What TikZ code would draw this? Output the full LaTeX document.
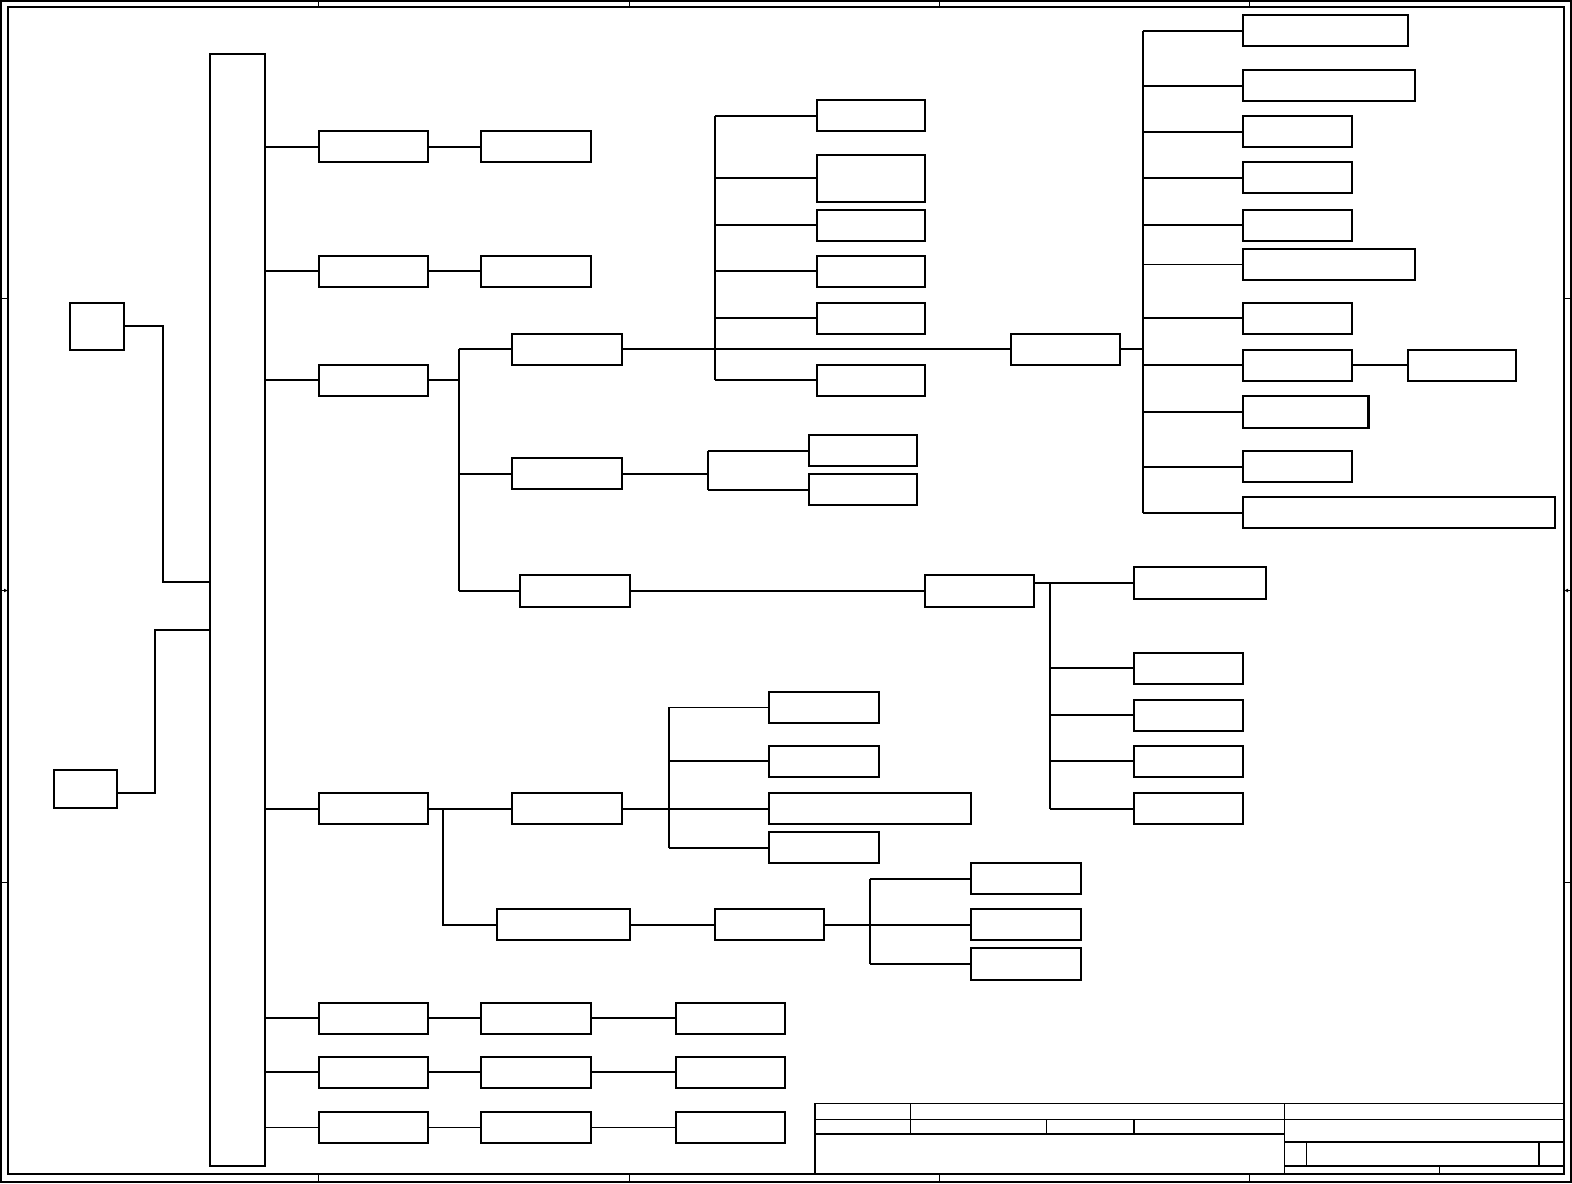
\documentclass[tikz,border=0pt]{standalone}
\usetikzlibrary{calc,arrows.meta}
\tikzset{
  bx/.style={draw, line width=2pt, rectangle, inner sep=0pt, outer sep=0pt},
  ln/.style={line width=2pt},
  thin ln/.style={line width=1.1pt},
  frm/.style={line width=1.2pt},
}
\newcommand\bx[5]{\node[bx, minimum width={(#4-#2)*1pt}, minimum height={(#5-#3)*1pt}] (#1) at ({(#2+#4)/2},{(#3+#5)/2}) {};}
\begin{document}
\begin{tikzpicture}[x=1pt,y=-1pt]
\useasboundingbox (0,0) rectangle (1568,1180);
% ---------- frame ----------
\draw[frm] (1,1) rectangle (1567,1179);
\draw[frm] (8,7) rectangle (1560,1171);
\foreach \xx in {318,628,937,1246}{
  \draw[frm] (\xx,1) -- (\xx,7);
  \draw[frm] (\xx,1171) -- (\xx,1179);
}
\foreach \yy in {298,880}{
  \draw[frm] (1,\yy) -- (8,\yy);
  \draw[frm] (1560,\yy) -- (1567,\yy);
}
\draw[frm,-{Latex[length=4pt,width=4pt]}] (1,589) -- (8,589);
\draw[frm,-{Latex[length=4pt,width=4pt]}] (1567,589) -- (1560,589);
% ---------- title block ----------
\draw[frm] (813,1171) -- (813,1101) -- (1560,1101);
\draw[frm] (813,1117) -- (1560,1117);
\draw[frm] (813,1131) -- (1281,1131);
\draw[frm] (908,1101) -- (908,1131);
\draw[frm] (1044,1117) -- (1044,1131);
\draw[frm] (1131,1117) -- (1131,1131);
\draw[frm] (1281,1101) -- (1281,1171);
\draw[frm] (1281,1139) -- (1560,1139);
\draw[frm] (1303,1139) -- (1303,1163);
\draw[frm] (1535,1139) -- (1535,1163);
\draw[frm] (1281,1163) -- (1560,1163);
\draw[frm] (1436,1163) -- (1436,1171);
% ---------- boxes ----------
\bx{bar}{209}{54}{264}{1163}
\bx{ext1}{70}{302}{124}{349}
\bx{ext2}{54}{768}{117}{806}
% column 1
\bx{c1}{318}{131}{427}{162}
\bx{c2}{318}{255}{427}{286}
\bx{c3}{318}{364}{427}{395}
\bx{c4}{318}{791}{427}{822}
\bx{c5}{318}{1000}{427}{1031}
\bx{c6}{318}{1054}{427}{1085}
\bx{c7}{318}{1109}{427}{1140}
% column 2
\bx{c1b}{480}{131}{589}{162}
\bx{c2b}{480}{255}{589}{286}
\bx{c5b}{480}{1000}{589}{1031}
\bx{c6b}{480}{1054}{589}{1085}
\bx{c7b}{480}{1109}{589}{1140}
% column 3
\bx{c5c}{674}{1000}{783}{1031}
\bx{c6c}{674}{1054}{783}{1085}
\bx{c7c}{674}{1109}{783}{1140}
% branch of c3
\bx{p1}{511}{333}{620}{364}
\bx{p2}{511}{457}{620}{488}
\bx{p3}{519}{574}{628}{605}
\bx{q}{1008}{333}{1117}{364}
\bx{s1}{815}{100}{923}{131}
\bx{s2}{815}{155}{923}{201}
\bx{s3}{815}{209}{923}{240}
\bx{s4}{815}{255}{923}{286}
\bx{s5}{815}{302}{923}{333}
\bx{s6}{815}{364}{923}{395}
\bx{t1}{1240}{15}{1404}{46}
\bx{t2}{1240}{70}{1411}{101}
\bx{t3}{1240}{116}{1349}{147}
\bx{t4}{1240}{162}{1349}{193}
\bx{t5}{1240}{209}{1349}{240}
\bx{t6}{1240}{248}{1411}{279}
\bx{t7}{1240}{302}{1349}{333}
\bx{t8}{1240}{349}{1349}{380}
\bx{t8b}{1404}{349}{1512}{380}
\bx{t9}{1240}{395}{1365}{427}
\bx{t10}{1240}{450}{1349}{481}
\bx{t11}{1240}{496}{1551}{527}
\bx{u1}{807}{434}{915}{465}
\bx{u2}{807}{473}{915}{504}
\bx{v}{923}{574}{1031}{605}
\bx{w1}{1131}{566}{1263}{597}
\bx{w2}{1131}{651}{1240}{682}
\bx{w3}{1131}{698}{1240}{729}
\bx{w4}{1131}{744}{1240}{775}
\bx{w5}{1131}{791}{1240}{822}
% branch of c4
\bx{x}{511}{791}{620}{822}
\bx{ya}{496}{907}{628}{938}
\bx{yb}{713}{907}{822}{938}
\bx{z1}{767}{690}{877}{721}
\bx{z2}{767}{744}{877}{775}
\bx{z3}{767}{791}{969}{822}
\bx{z4}{767}{830}{877}{861}
\bx{a1}{969}{861}{1078}{892}
\bx{a2}{969}{907}{1078}{938}
\bx{a3}{969}{946}{1078}{977}
% ---------- connectors ----------
\coordinate (elbow1) at (163,581);
\coordinate (elbow2) at (155,628);
\coordinate (ext2out) at (117,791);
\draw[ln] (ext1.east) -| (elbow1) -- (bar.west |- elbow1);
\draw[ln] (ext2out) -| (elbow2) -- (bar.west |- elbow2);
\foreach \n in {c1,c2,c3,c4,c5,c6}{
  \draw[ln] (bar.east |- \n.west) -- (\n.west);
}
\draw[thin ln] (bar.east |- c7.west) -- (c7.west);
\draw[ln] (c1) -- (c1b);
\draw[ln] (c2) -- (c2b);
\draw[ln] (c5) -- (c5b);
\draw[ln] (c5b) -- (c5c);
\draw[ln] (c6) -- (c6b);
\draw[ln] (c6b) -- (c6c);
\draw[thin ln] (c7) -- (c7b);
\draw[thin ln] (c7b) -- (c7c);
% c3 bus
\coordinate (bus3) at (458,0);
\draw[ln] (c3.east) -- (c3.east -| bus3);
\draw[ln] (bus3 |- p1.west) -- (bus3 |- p3.west);
\draw[ln] (bus3 |- p1.west) -- (p1.west);
\draw[ln] (bus3 |- p2.west) -- (p2.west);
\draw[ln] (bus3 |- p3.west) -- (p3.west);
% p1 -> q and s-bus
\draw[ln] (p1.east) -- (q.west);
\coordinate (bus4) at (713,0);
\draw[ln] (bus4 |- s1.west) -- (bus4 |- s6.west);
\foreach \n in {s1,s2,s3,s4,s5,s6}{
  \draw[ln] (bus4 |- \n.west) -- (\n.west);
}
% q -> t-bus
\coordinate (bus5) at (1140,0);
\draw[ln] (q.east) -- (q.east -| bus5);
\draw[ln] (bus5 |- t1.west) -- (bus5 |- t11.west);
\foreach \n in {t1,t2,t3,t4,t5,t7,t8,t9,t10,t11}{
  \draw[ln] (bus5 |- \n.west) -- (\n.west);
}
\draw[thin ln] (bus5 |- t6.west) -- (t6.west);
\draw[ln] (t8) -- (t8b);
% p2 -> u
\coordinate (bus6) at (706,0);
\draw[ln] (p2.east) -- (p2.east -| bus6);
\draw[ln] (bus6 |- u1.west) -- (bus6 |- u2.west);
\draw[ln] (bus6 |- u1.west) -- (u1.west);
\draw[ln] (bus6 |- u2.west) -- (u2.west);
% p3 -> v -> w
\draw[ln] (p3) -- (v);
\coordinate (bus7) at (1047,0);
\draw[ln] (v.east |- w1.west) -- (w1.west);
\draw[ln] (bus7 |- w1.west) -- (bus7 |- w5.west);
\foreach \n in {w2,w3,w4,w5}{
  \draw[ln] (bus7 |- \n.west) -- (\n.west);
}
% c4 branch
\draw[ln] (c4) -- (x);
\coordinate (bus8) at (442,0);
\draw[ln] (bus8 |- c4.east) |- (ya.west);
\coordinate (bus9) at (667,0);
\draw[ln] (x.east) -- (x.east -| bus9);
\draw[ln] (bus9 |- z1.west) -- (bus9 |- z4.west);
\draw[thin ln] (bus9 |- z1.west) -- (z1.west);
\foreach \n in {z2,z3,z4}{
  \draw[ln] (bus9 |- \n.west) -- (\n.west);
}
\draw[ln] (ya) -- (yb);
\coordinate (bus10) at (868,0);
\draw[ln] (yb.east) -- (yb.east -| bus10);
\draw[ln] (bus10 |- a1.west) -- (bus10 |- a3.west);
\foreach \n in {a1,a2,a3}{
  \draw[ln] (bus10 |- \n.west) -- (\n.west);
}
\end{tikzpicture}
\end{document}
